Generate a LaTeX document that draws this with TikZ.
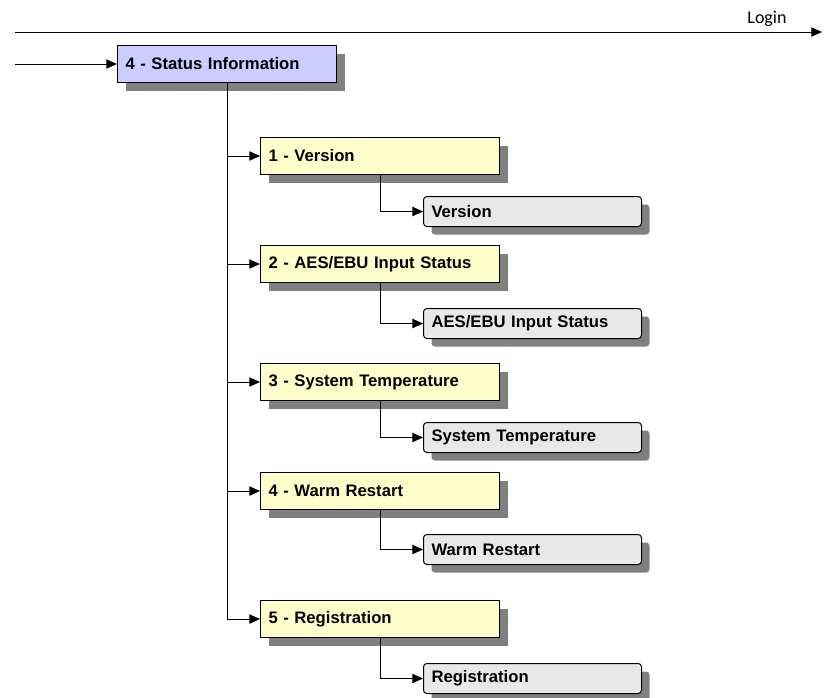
\documentclass[tikz,border=0pt]{standalone}
\usepackage{fontspec}
\setmainfont{Liberation Sans}
\newfontfamily\loginfont{Carlito}
\usepackage{tikz}
\usetikzlibrary{arrows.meta}
\usetikzlibrary{shadows}
\definecolor{menublue}{RGB}{204,204,255}
\definecolor{menuyellow}{RGB}{255,255,204}
\definecolor{itemgray}{RGB}{232,232,232}
\definecolor{shadowgray}{RGB}{128,128,128}
\tikzset{
  shade box/.style={draw=black, line width=0.75pt, anchor=north west,
    font=\fontsize{12.5}{14}\selectfont\bfseries, inner xsep=6pt,
    drop shadow={shadow xshift=6pt, shadow yshift=-6pt, opacity=1, fill=shadowgray}},
  menubox/.style={shade box, fill=menuyellow, minimum height=27.75pt,
    text width=167.25pt, minimum width=179.25pt},
  itembox/.style={shade box, fill=itemgray, rounded corners=2.5pt,
    minimum height=22.5pt, text width=151.5pt, minimum width=163.5pt},
  link/.style={line width=0.75pt, -{Triangle[length=8pt,width=7pt]}}
}

\begin{document}
\begin{tikzpicture}[x=0.75pt, y=-0.75pt]
        \useasboundingbox (0,0) rectangle (832,697);
        % login line
        \coordinate (loginstart) at (15,32);
        \coordinate (loginend) at (822,32);
        \draw[link] (loginstart) -- (loginend);
        \node[anchor=base, font=\loginfont\fontsize{13.5}{15}\selectfont] (login) at (767,23) {Login};
        % top level
        \coordinate (entry) at (15,64);
        \node[shade box, fill=menublue, minimum height=27.75pt,
          text width=152.25pt, minimum width=164.25pt] (status) at (117,45) {4 - Status Information};
        \draw[link] (entry) -- (entry -| status.west);
        \coordinate (trunk) at (227,82);
        \coordinate (trunkend) at (227,618.5);
        % menu 1
        \node[menubox] (m1) at (260,137) {1 - Version};
        \node[itembox] (i1) at (423,196) {Version};
        % menu 2
        \node[menubox] (m2) at (260,245) {2 - AES/EBU Input Status};
        \node[itembox] (i2) at (423,308) {AES/EBU Input Status};
        % menu 3
        \node[menubox] (m3) at (260,363) {3 - System Temperature};
        \node[itembox] (i3) at (423,422) {System Temperature};
        % menu 4
        \node[menubox] (m4) at (260,472) {4 - Warm Restart};
        \node[itembox] (i4) at (423,534) {Warm Restart};
        % menu 5
        \node[menubox] (m5) at (260,600) {5 - Registration};
        \node[itembox] (i5) at (423,663) {Registration};
        % connectors
        \draw[line width=0.75pt] (trunk) -- (trunkend);
        \foreach \n in {1,...,5}{
          \draw[link] (trunk |- m\n.west) -- (m\n.west);
          \draw[link] (m\n.south -| 380,0) |- (i\n.west);
        }
    \end{tikzpicture}
\end{document}
